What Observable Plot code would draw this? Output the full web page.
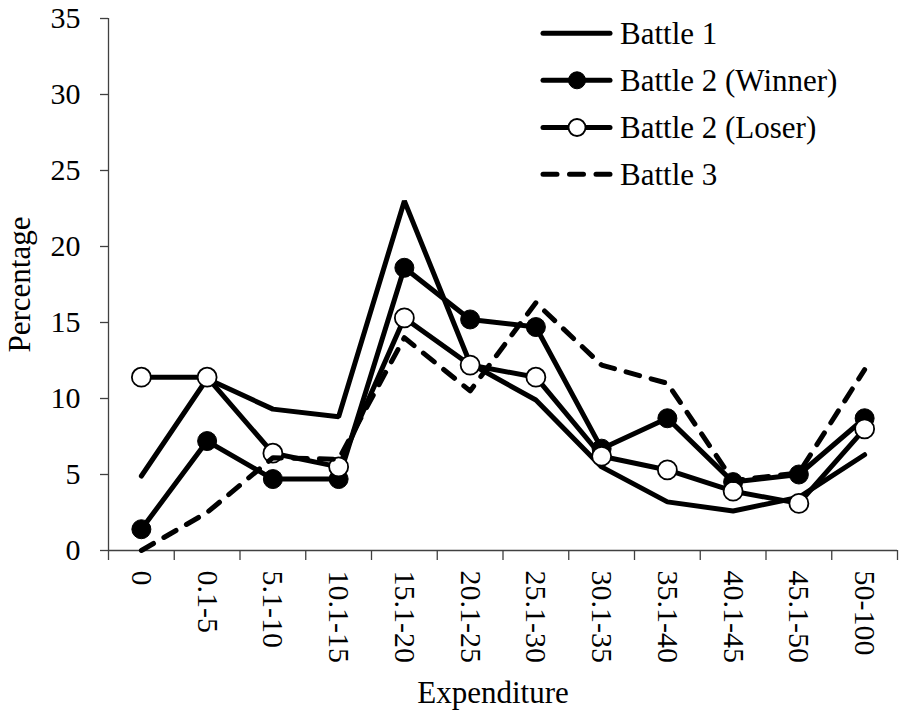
<!DOCTYPE html>
<html>
<head>
<meta charset="utf-8">
<script src="https://cdn.jsdelivr.net/npm/d3@7"></script>
<script src="https://cdn.jsdelivr.net/npm/@observablehq/plot@0.6"></script>
<style>
  html, body { margin: 0; padding: 0; background: #fff; }
  #wrap { position: relative; width: 899px; height: 713px; font-family: "Liberation Serif", "Times New Roman", serif; }
  #legend { position: absolute; left: 0; top: 0; pointer-events: none; }
</style>
</head>
<body>
<div id="wrap"></div>
<script>
// ---- data ----
const categories = ["0", "0.1-5", "5.1-10", "10.1-15", "15.1-20", "20.1-25", "25.1-30", "30.1-35", "35.1-40", "40.1-45", "45.1-50", "50-100"];
const battle1       = [4.9, 11.3, 9.3, 8.8, 23.0, 12.3, 9.9, 5.5, 3.2, 2.6, 3.5, 6.3];
const battle2Winner = [1.4, 7.2, 4.7, 4.7, 18.6, 15.2, 14.7, 6.7, 8.7, 4.5, 5.0, 8.7];
const battle2Loser  = [11.4, 11.4, 6.4, 5.5, 15.3, 12.2, 11.4, 6.2, 5.3, 3.9, 3.1, 8.0];
const battle3       = [0.0, 2.5, 6.1, 6.0, 14.0, 10.5, 16.3, 12.2, 11.0, 4.6, 5.1, 11.9];
const yTicks = [0, 5, 10, 15, 20, 25, 30, 35];
const seriesNames = ["Battle 1", "Battle 2 (Winner)", "Battle 2 (Loser)", "Battle 3"];

const n = categories.length;
const idx = (d, i) => i;
const val = d => d;
const boundaries = d3.range(n + 1).map(i => i - 0.5);
const axisColor = "#404040";
const lineW = 5;

const chart = Plot.plot({
  width: 899,
  height: 713,
  marginLeft: 108,
  marginRight: 2,
  marginTop: 18,
  marginBottom: 163,
  style: { fontFamily: "Liberation Serif, Times New Roman, serif", fontSize: "30px", background: "white", color: "black" },
  x: { type: "linear", domain: [-0.5, n - 0.5] },
  y: { type: "linear", domain: [0, 35] },
  marks: [
    // axis lines
    Plot.ruleX([-0.5], { stroke: axisColor, strokeWidth: 1.3 }),
    Plot.ruleY([0], { stroke: axisColor, strokeWidth: 1.3 }),
    Plot.axisY({ ticks: yTicks, tickSize: 8, tickPadding: 20, fontSize: 30, label: null, stroke: axisColor, strokeWidth: 1.3 }),
    Plot.axisX({ ticks: boundaries, tickFormat: () => "", tickSize: 10, label: null, stroke: axisColor, strokeWidth: 1.3 }),
    Plot.axisX({ ticks: d3.range(n), tickFormat: i => categories[i], tickSize: 0, tickPadding: 20, tickRotate: 90, fontSize: 30, label: null }),
    // axis titles
    Plot.text(["Percentage"], { frameAnchor: "left", dx: -88, rotate: -90, fontSize: 31, textAnchor: "middle", lineAnchor: "middle" }),
    Plot.text(["Expenditure"], { frameAnchor: "bottom", dx: -10, dy: 143, fontSize: 31, textAnchor: "middle", lineAnchor: "middle" }),
    // series
    Plot.line(battle1, { x: idx, y: val, stroke: "black", strokeWidth: lineW, strokeLinejoin: "miter", strokeLinecap: "round" }),
    Plot.line(battle2Winner, { x: idx, y: val, stroke: "black", strokeWidth: lineW, strokeLinejoin: "miter", strokeLinecap: "round" }),
    Plot.dot(battle2Winner, { x: idx, y: val, r: 9.5, fill: "black", stroke: "black", strokeWidth: 1 }),
    Plot.line(battle2Loser, { x: idx, y: val, stroke: "black", strokeWidth: lineW, strokeLinejoin: "miter", strokeLinecap: "round" }),
    Plot.dot(battle2Loser, { x: idx, y: val, r: 9.5, fill: "white", stroke: "black", strokeWidth: 1.8 }),
    Plot.line(battle3, { x: idx, y: val, stroke: "black", strokeWidth: lineW, strokeDasharray: "14,12", strokeLinejoin: "round", strokeLinecap: "round" })
  ]
});

const wrap = document.getElementById("wrap");
wrap.appendChild(chart);

// ---- legend (overlay inside plot area) ----
const NS = "http://www.w3.org/2000/svg";
const leg = document.createElementNS(NS, "svg");
leg.setAttribute("id", "legend");
leg.setAttribute("width", 899);
leg.setAttribute("height", 200);
const rowsY = [33.3, 80.3, 127.5, 174.3];
const lx1 = 541, lx2 = 612, mx = 577, tx = 620;
seriesNames.forEach((name, k) => {
  const y = rowsY[k];
  const ln = document.createElementNS(NS, "line");
  ln.setAttribute("x1", lx1 + 2); ln.setAttribute("x2", lx2 - 2);
  ln.setAttribute("y1", y); ln.setAttribute("y2", y);
  ln.setAttribute("stroke", "black");
  ln.setAttribute("stroke-width", 5);
  ln.setAttribute("stroke-linecap", "round");
  if (k === 3) ln.setAttribute("stroke-dasharray", "14,12.5");
  leg.appendChild(ln);
  if (k === 1 || k === 2) {
    const c = document.createElementNS(NS, "circle");
    c.setAttribute("cx", mx); c.setAttribute("cy", y); c.setAttribute("r", 8.5);
    c.setAttribute("fill", k === 1 ? "black" : "white");
    c.setAttribute("stroke", "black");
    c.setAttribute("stroke-width", k === 1 ? 1 : 1.8);
    leg.appendChild(c);
  }
  const t = document.createElementNS(NS, "text");
  t.setAttribute("x", tx);
  t.setAttribute("y", y + 10.3);
  t.setAttribute("font-family", "Liberation Serif, Times New Roman, serif");
  t.setAttribute("font-size", 31);
  t.setAttribute("fill", "black");
  t.textContent = name;
  leg.appendChild(t);
});
wrap.appendChild(leg);
</script>
</body>
</html>
